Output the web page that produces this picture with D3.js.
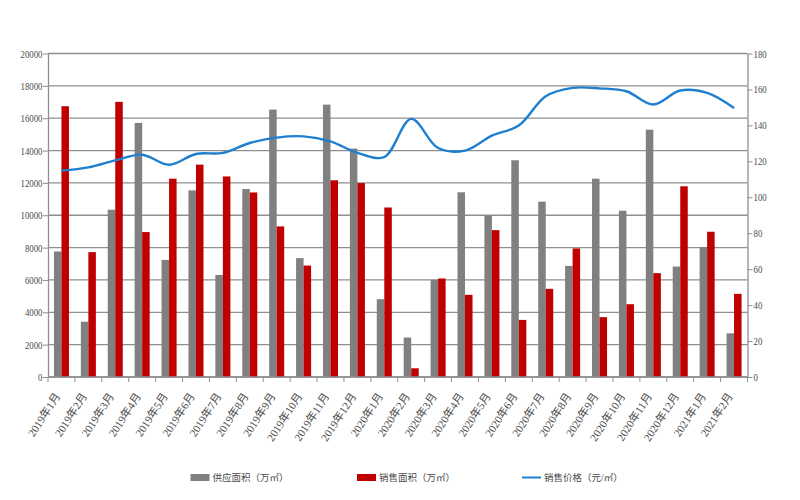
<!DOCTYPE html>
<html><head><meta charset="utf-8">
<script src="https://cdn.jsdelivr.net/npm/d3@7"></script>
<style>body{margin:0;background:#fff}</style></head>
<body><svg id="c" width="800" height="500"></svg>
<script>
const categories = ["2019年1月","2019年2月","2019年3月","2019年4月","2019年5月","2019年6月","2019年7月","2019年8月","2019年9月","2019年10月","2019年11月","2019年12月","2020年1月","2020年2月","2020年3月","2020年4月","2020年5月","2020年6月","2020年7月","2020年8月","2020年9月","2020年10月","2020年11月","2020年12月","2021年1月","2021年2月"];
const supply = [7760,3420,10340,15710,7240,11540,6310,11620,16530,7350,16840,14120,4810,2440,6010,11420,9990,13400,10840,6870,12260,10280,15290,6830,8030,2700];
const sales = [16740,7720,17010,8960,12260,13130,12400,11410,9310,6890,12160,11990,10480,540,6090,5080,9080,3530,5450,7950,3700,4500,6420,11790,8980,5140];
const price = [114.8,116.6,120.5,123.7,118.1,124.1,124.7,130.2,133.2,133.9,131.1,124.7,122.4,143.6,127.4,126.0,134.3,139.9,156.2,160.9,160.6,159.0,151.6,159.4,158.1,149.7];
const leftTicks = [0,2000,4000,6000,8000,10000,12000,14000,16000,18000,20000];
const rightTicks = [0,20,40,60,80,100,120,140,160,180];
const legendLabels = ["供应面积（万㎡）","销售面积（万㎡）","销售价格（元/㎡）"];

const svg = d3.select("#c");
const L = 48, R = 747.5, T = 53.5, B = 377;
const font = "'Liberation Serif','Noto Sans CJK SC',serif";
const textColor = "#4a4a4a";
const axisColor = "#8f8f8f";

const x = d3.scaleBand().domain(categories).range([L, R]).padding(0);
const xs = d3.scaleBand().domain(["s","r"]).range([0, x.bandwidth()]).paddingInner(0).paddingOuter(0.79);
const yL = d3.scaleLinear().domain([0, 20000]).range([B, T]);
const yR = d3.scaleLinear().domain([0, 180]).range([B, T]);

// gridlines
svg.append("g").selectAll("line").data(leftTicks).join("line")
  .attr("x1", L).attr("x2", R).attr("y1", d => yL(d)).attr("y2", d => yL(d))
  .attr("stroke", axisColor).attr("stroke-width", 1.3);

// bars
const g = svg.append("g");
g.selectAll("rect.s").data(categories).join("rect").attr("class","s")
  .attr("x", d => x(d) + xs("s")).attr("width", xs.bandwidth())
  .attr("y", (d,i) => yL(supply[i])).attr("height", (d,i) => B - yL(supply[i]))
  .attr("fill", "#808080");
g.selectAll("rect.r").data(categories).join("rect").attr("class","r")
  .attr("x", d => x(d) + xs("r")).attr("width", xs.bandwidth())
  .attr("y", (d,i) => yL(sales[i])).attr("height", (d,i) => B - yL(sales[i]))
  .attr("fill", "#c00000");

// line
const line = d3.line().x((d,i) => x(categories[i]) + x.bandwidth()/2).y(d => yR(d)).curve(d3.curveCatmullRom.alpha(0.5));
svg.append("path").datum(price).attr("d", line).attr("fill","none")
  .attr("stroke", "#1f7fcf").attr("stroke-width", 2.4);

// left axis
const axL = svg.append("g").attr("transform", `translate(${L},0)`)
  .call(d3.axisLeft(yL).tickValues(leftTicks).tickSize(5).tickSizeOuter(0).tickFormat(d3.format("d")));
axL.select(".domain").attr("stroke", axisColor).attr("stroke-width", 1.3);
axL.selectAll(".tick line").attr("stroke", axisColor);
axL.selectAll("text").attr("font-family", font).attr("font-size", 11).attr("fill", textColor)
  .attr("x", 0).attr("transform", "translate(-5.5,0) scale(0.8,1)");

// right axis
const axR = svg.append("g").attr("transform", `translate(${R},0)`)
  .call(d3.axisRight(yR).tickValues(rightTicks).tickSize(5).tickSizeOuter(0));
axR.select(".domain").attr("stroke", axisColor).attr("stroke-width", 1.3);
axR.selectAll(".tick line").attr("stroke", axisColor);
axR.selectAll("text").attr("font-family", font).attr("font-size", 11).attr("fill", textColor)
  .attr("x", 0).attr("transform", "translate(6,0) scale(0.8,1)");

// bottom axis
const axB = svg.append("g").attr("transform", `translate(0,${B})`);
axB.append("line").attr("x1", L).attr("x2", R).attr("stroke", axisColor).attr("stroke-width", 1.3);
axB.selectAll("line.t").data(categories.concat(["_end"])).join("line").attr("class","t")
  .attr("x1", (d,i) => i < categories.length ? x(d) : R).attr("x2", (d,i) => i < categories.length ? x(d) : R)
  .attr("y1", 0).attr("y2", 5).attr("stroke", axisColor);
axB.selectAll("text").data(categories).join("text")
  .attr("transform", d => `translate(${x(d) + x.bandwidth()/2 - 4},${17}) rotate(-57)`)
  .attr("text-anchor", "end").attr("dy", "0.35em")
  .attr("font-family", font).attr("font-size", 11).attr("fill", textColor)
  .text(d => d);

// legend
const lg = svg.append("g").attr("font-family", font).attr("font-size", 9.5).attr("fill", textColor);
const lx = [190.5, 357, 522];
const ly = 477.5;
lg.append("rect").attr("x", lx[0]).attr("y", ly - 3.5).attr("width", 19).attr("height", 7).attr("fill", "#808080");
lg.append("rect").attr("x", lx[1]).attr("y", ly - 3.5).attr("width", 19).attr("height", 7).attr("fill", "#c00000");
lg.append("line").attr("x1", lx[2]).attr("x2", lx[2] + 19).attr("y1", ly).attr("y2", ly).attr("stroke", "#1f7fcf").attr("stroke-width", 2);
lg.selectAll("text").data(legendLabels).join("text")
  .attr("x", (d,i) => lx[i] + 22).attr("y", ly).attr("dy", "0.35em").text(d => d);
</script>
</body></html>
